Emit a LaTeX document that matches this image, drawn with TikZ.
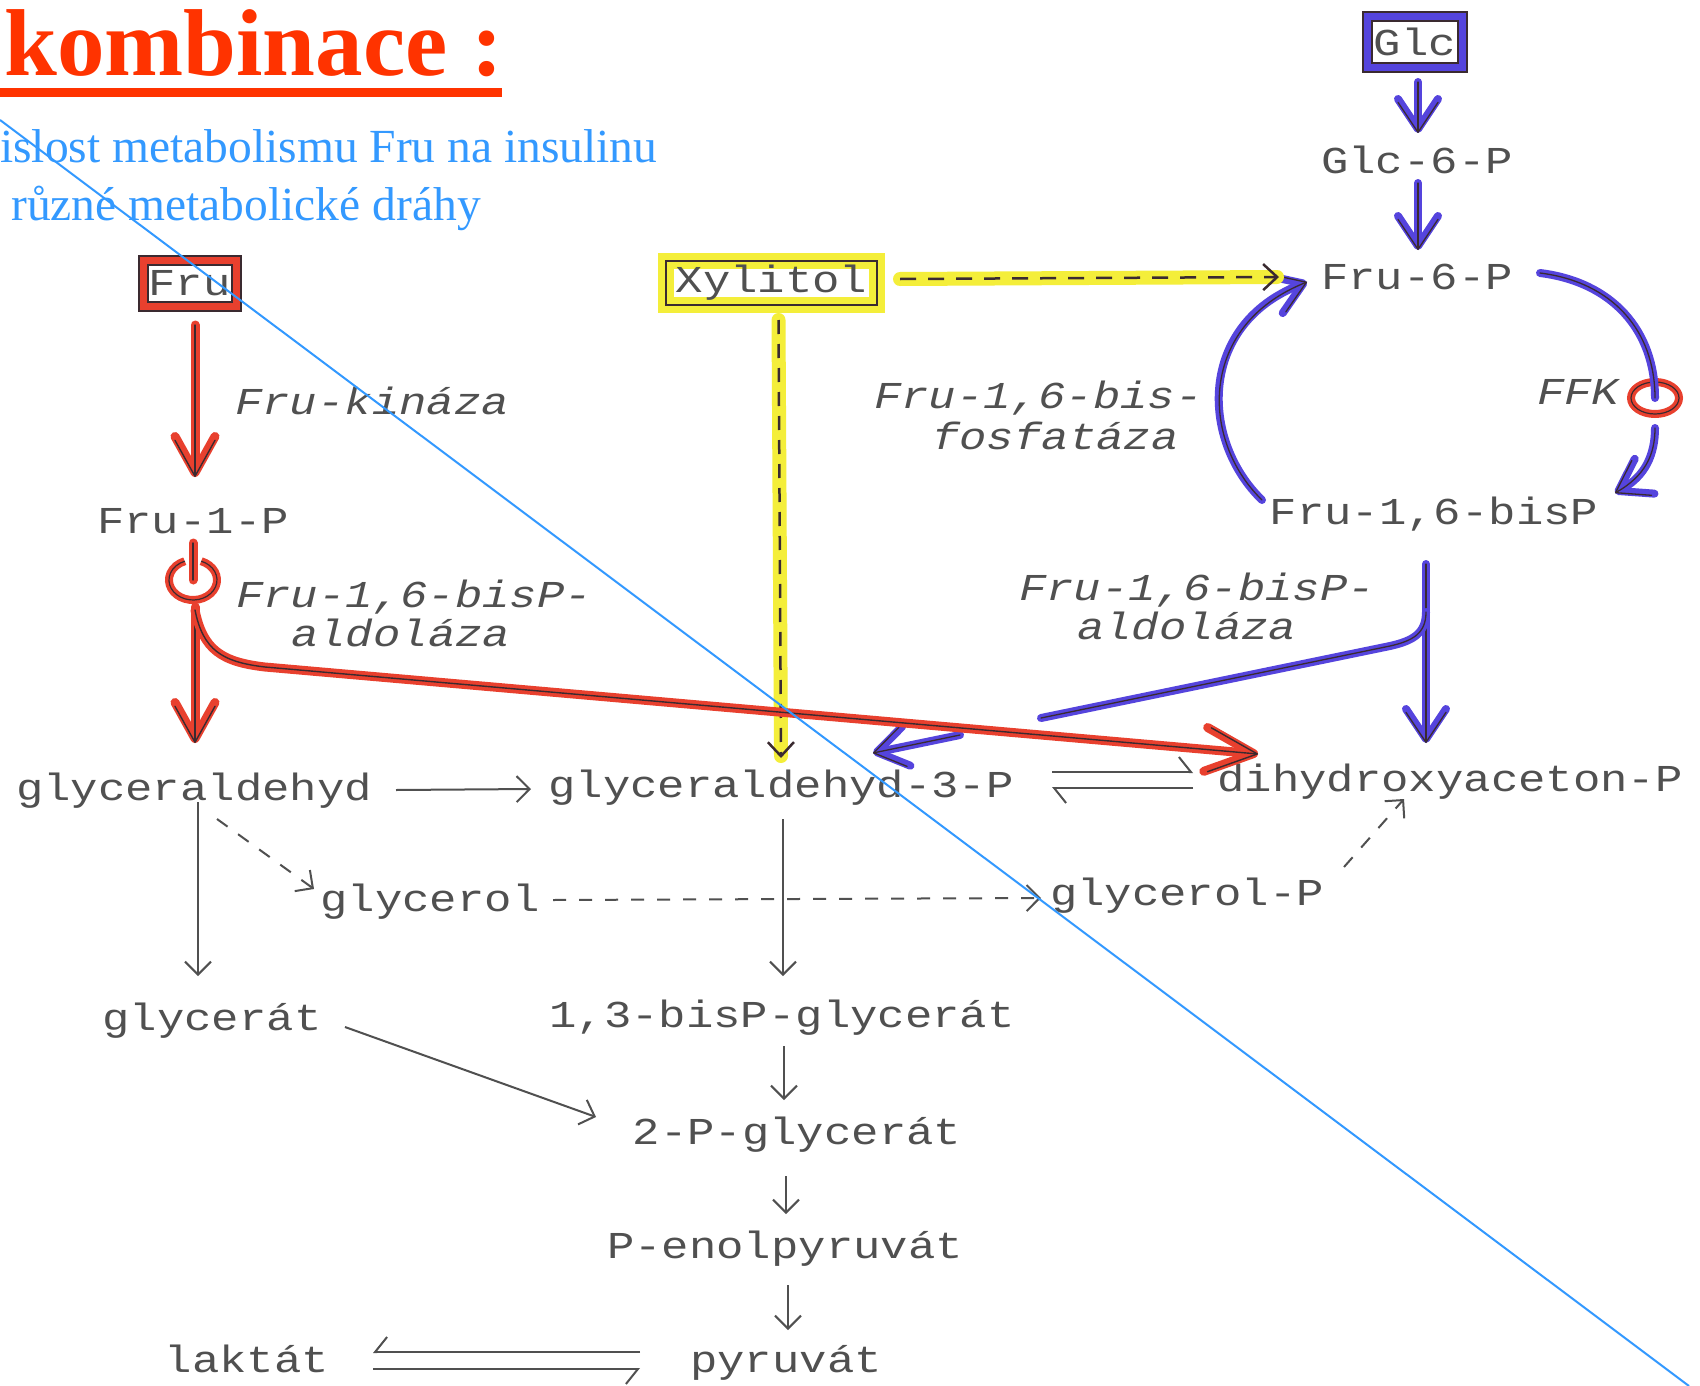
\documentclass[tikz,border=0pt]{standalone}
\usepackage{fontspec}
\newfontfamily\tw{Liberation Mono}[FakeStretch=1.2]
\newfontfamily\tms{Liberation Serif}
\usetikzlibrary{arrows.meta,shapes.geometric}
\definecolor{tgray}{HTML}{505050}
\definecolor{mred}{HTML}{E8402E}
\definecolor{mblue}{HTML}{5544DD}
\definecolor{myel}{HTML}{F4EE3A}
\definecolor{ink}{HTML}{3A2A30}
\definecolor{titred}{HTML}{FF3300}
\definecolor{subblue}{HTML}{3399FF}
\begin{document}
\begin{tikzpicture}[x=1pt,y=-1pt,
  lbl/.style={font=\tw\fontsize{38}{44}\selectfont,text=tgray,inner sep=0pt,anchor=base},
  enz/.style={font=\tw\itshape\fontsize{38}{44}\selectfont,text=tgray,inner sep=0pt,anchor=base west},
  thinarr/.style={draw=tgray,line width=2,-{Straight Barb[length=13,width=26]}},
  dasharr/.style={thinarr,dash pattern=on 13 off 13},
  harp/.style={draw=tgray,line width=2,-{Straight Barb[harpoon,length=12,width=30]}},
  harpsw/.style={draw=tgray,line width=2,-{Straight Barb[harpoon,swap,length=12,width=30]}},
  redpen/.style={draw=mred,line width=9,line cap=round,postaction={draw=ink,line width=1.4}},
  bluepen/.style={draw=mblue,line width=8,line cap=round,postaction={draw=ink,line width=1.3}},
  redtip/.style={-{Straight Barb[length=36,width=40,round]}},
  bigredtip/.style={-{Straight Barb[length=48,width=44,round]}},
  bluetip/.style={-{Straight Barb[length=30,width=40,round]}},
  yelpen/.style={draw=myel,line width=14,line cap=round},
  yeldash/.style={draw=ink,line width=2.5,dash pattern=on 16 off 12,-{Straight Barb[length=14,width=26]}},
  boxbase/.style={font=\tw\fontsize{38}{44}\selectfont,text=tgray,inner sep=0pt,outer sep=0pt,anchor=center}
]
\fill[white] (0,0) rectangle (1700,1386);
\useasboundingbox (0,0) rectangle (1700,1386);

% title and subtitle
\node[anchor=base west,inner sep=0pt,font=\tms\bfseries\fontsize{95}{100}\selectfont,text=titred] (title) at (4,76) {kombinace :};
\fill[titred] (0,88) rectangle (502,97);
\node[anchor=base west,inner sep=0pt,font=\tms\fontsize{47.5}{52}\selectfont,text=subblue] (sub1) at (0,162) {islost metabolismu Fru na insulinu};
\node[anchor=base west,inner sep=0pt,font=\tms\fontsize{47.5}{52}\selectfont,text=subblue] (sub2) at (11,220) {různé metabolické dráhy};

% boxes
\node[boxbase,minimum width=95,minimum height=51,draw=ink,line width=11,postaction={draw=mblue,line width=7}] (glc) at (1415,42) {Glc};
\node[boxbase,minimum width=93,minimum height=46,draw=ink,line width=11,postaction={draw=mred,line width=7}] (fru) at (189.5,283) {Fru};
\node[boxbase,minimum width=211,minimum height=44,draw=myel,line width=16,postaction={draw=ink,line width=2.5}] (xyl) at (771.5,283) {Xylitol};

% metabolites
\node[lbl] (g6p) at (1417,173) {Glc-6-P};
\node[lbl] (f6p) at (1417,289) {Fru-6-P};
\node[lbl] (f16) at (1434,524) {Fru-1,6-bisP};
\node[lbl] (f1p) at (193,533) {Fru-1-P};
\node[lbl] (glyc) at (194,800) {glyceraldehyd};
\node[lbl] (g3p) at (781,797) {glyceraldehyd-3-P};
\node[lbl] (dhap) at (1450,791) {dihydroxyaceton-P};
\node[lbl] (glol) at (430,911) {glycerol};
\node[lbl] (glp) at (1187,905) {glycerol-P};
\node[lbl] (glyt) at (212,1030) {glycerát};
\node[lbl] (bpg) at (782,1027) {1,3-bisP-glycerát};
\node[lbl] (pg2) at (797,1144) {2-P-glycerát};
\node[lbl] (pep) at (785,1258) {P-enolpyruvát};
\node[lbl] (pyr) at (786,1372) {pyruvát};
\node[lbl] (lak) at (247,1372) {laktát};

% enzyme labels
\node[enz] (frukin) at (235,414) {Fru-kináza};
\node[enz] (ald1a) at (236,607) {Fru-1,6-bisP-};
\node[enz] (ald1b) at (291,646) {aldoláza};
\node[enz] (fbpa) at (874,408) {Fru-1,6-bis-};
\node[enz] (fbpb) at (932,449) {fosfatáza};
\node[enz] (ffk) at (1537,404) {FFK};
\node[enz] (ald2a) at (1019,600) {Fru-1,6-bisP-};
\node[enz] (ald2b) at (1077,639) {aldoláza};

% rings
\node[ellipse,draw=mred,line width=8,minimum width=48,minimum height=32,inner sep=0pt,postaction={draw=ink,line width=1.2}] (ring2) at (1655,398) {};
\coordinate (ring1) at (193,580);
\draw[draw=mred,line width=8,postaction={draw=ink,line width=1.2}] ([shift={(8.2,-18.8)}]ring1) arc[start angle=-70,end angle=250,x radius=24,y radius=20];

% glucose pathway (blue)
\draw[bluepen,bluetip] ([shift={(3,40)}]glc.center) -- ([shift={(1,-40)}]g6p.base);
\draw[bluepen,bluetip] ([shift={(1,10)}]g6p.base) -- ([shift={(1,-39)}]f6p.base);
\draw[bluepen] ([shift={(123,-16)}]f6p.base) .. controls (1612,282) and (1655,330) .. (ring2.center);
\draw[bluepen,bluetip] ([shift={(0,10)}]ring2.south) .. controls (1655,455) and (1645,476) .. ([shift={(181,-31)}]f16.base);
\draw[bluepen,bluetip] ([shift={(-172,-24)}]f16.base) .. controls (1200,440) and (1198,325) .. ([shift={(-110,-7)}]f6p.base);
\draw[bluepen,bluetip] ([shift={(-8,40)}]f16.base) -- ([shift={(-24,-48)}]dhap.base);
\draw[bluepen] ([shift={(-8,88)}]f16.base) .. controls (1426,634) and (1412,641) .. (1390,646) -- (1041,718);
\draw[bluepen,bluetip] (960,735) -- ([shift={(92,-44)}]g3p.base);

% xylitol (yellow)
\path[yelpen] ([shift={(23,-4)}]xyl.east) -- ([shift={(-140,-12)}]f6p.base);
\draw[yeldash] ([shift={(23,-4)}]xyl.east) -- ([shift={(-138,-12)}]f6p.base);
\path[yelpen] ([shift={(7,15)}]xyl.south) -- ([shift={(0,-41)}]g3p.base);
\draw[yeldash,dash pattern=on 14 off 10] ([shift={(7,15)}]xyl.south) -- ([shift={(0,-39)}]g3p.base);

% fructose (red)
\draw[redpen,redtip] ([shift={(5.5,19)}]fru.south) -- ([shift={(2,-56)}]f1p.base);
\draw[redpen] ([shift={(0,10)}]f1p.base) -- (ring1);
\draw[redpen,redtip] ([shift={(2,27)}]ring1) -- ([shift={(1,-57)}]glyc.base);
\draw[redpen,bigredtip] ([shift={(2,30)}]ring1) .. controls (203,650) and (222,662) .. (265,667) -- ([shift={(-192,-37)}]dhap.base);

% black pathway
\draw[thinarr] ([shift={(202,-10)}]glyc.base) -- ([shift={(-250,-8)}]g3p.base);
\draw[harp] ([shift={(271,-25)}]g3p.base) -- ([shift={(-257,-19)}]dhap.base);
\draw[harp] ([shift={(-257,-3)}]dhap.base) -- ([shift={(271,-9)}]g3p.base);
\draw[thinarr] ([shift={(4,2)}]glyc.base) -- ([shift={(-14,-54)}]glyt.base);
\draw[dasharr] ([shift={(23,19)}]glyc.base) -- ([shift={(-116,-22)}]glol.base);
\draw[dasharr] ([shift={(123,-11)}]glol.base) -- ([shift={(-146,-7)}]glp.base);
\draw[dasharr] ([shift={(157,-38)}]glp.base) -- ([shift={(-46,8)}]dhap.base);
\draw[thinarr] ([shift={(2,22)}]g3p.base) -- ([shift={(1,-51)}]bpg.base);
\draw[thinarr] ([shift={(133,-3)}]glyt.base) -- ([shift={(-201,-27)}]pg2.base);
\draw[thinarr] ([shift={(2,19)}]bpg.base) -- ([shift={(-13,-44)}]pg2.base);
\draw[thinarr] ([shift={(-11,32)}]pg2.base) -- ([shift={(1,-44)}]pep.base);
\draw[thinarr] ([shift={(3,27)}]pep.base) -- ([shift={(2,-42)}]pyr.base);
\draw[harpsw] ([shift={(-146,-20)}]pyr.base) -- ([shift={(126,-20)}]lak.base);
\draw[harpsw] ([shift={(126,-3)}]lak.base) -- ([shift={(-146,-3)}]pyr.base);

% diagonal blue line
\draw[subblue,line width=2] (0,120) -- (1689,1386);
\end{tikzpicture}
\end{document}
